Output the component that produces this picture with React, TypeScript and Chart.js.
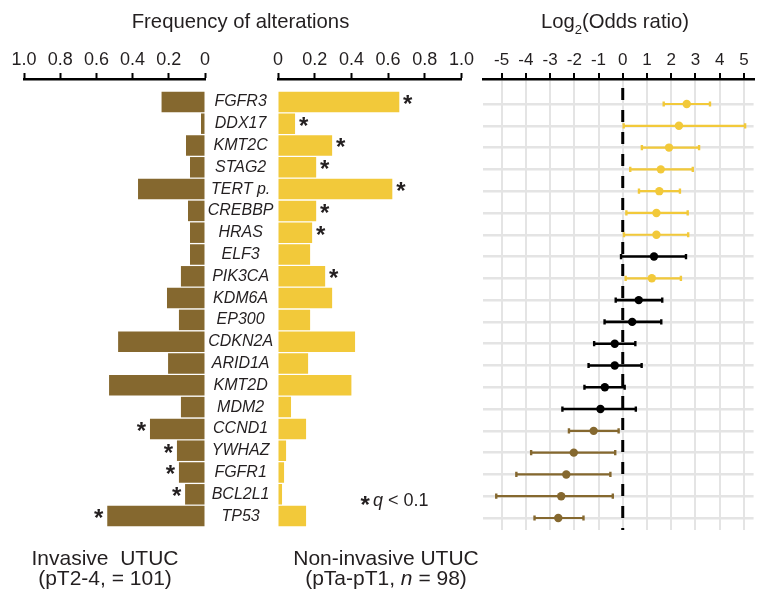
import React, { useEffect, useRef } from 'react';
import { Chart, registerables } from 'chart.js';

Chart.register(...registerables);

// ---------- data ----------
const genes = ['FGFR3', 'DDX17', 'KMT2C', 'STAG2', 'TERT p.', 'CREBBP', 'HRAS', 'ELF3', 'PIK3CA', 'KDM6A', 'EP300', 'CDKN2A', 'ARID1A', 'KMT2D', 'MDM2', 'CCND1', 'YWHAZ', 'FGFR1', 'BCL2L1', 'TP53'];
const invasiveFreq = [0.24, 0.022, 0.105, 0.083, 0.37, 0.094, 0.083, 0.083, 0.133, 0.21, 0.144, 0.48, 0.204, 0.53, 0.133, 0.304, 0.155, 0.144, 0.11, 0.54];
const nonInvasiveFreq = [0.661, 0.093, 0.295, 0.208, 0.623, 0.208, 0.186, 0.175, 0.257, 0.295, 0.175, 0.42, 0.164, 0.4, 0.071, 0.153, 0.044, 0.033, 0.022, 0.153];
const invasiveSignificant = [false, false, false, false, false, false, false, false, false, false, false, false, false, false, false, true, true, true, true, true];
const nonInvasiveSignificant = [true, true, true, true, true, true, true, false, true, false, false, false, false, false, false, false, false, false, false, false];
const log2OddsRatio = [2.64, 2.32, 1.91, 1.57, 1.51, 1.39, 1.39, 1.29, 1.2, 0.66, 0.39, -0.33, -0.33, -0.74, -0.92, -1.2, -2.02, -2.33, -2.54, -2.66];
const ciLower = [1.69, 0.04, 0.79, 0.31, 0.67, 0.15, 0.05, -0.07, 0.12, -0.29, -0.75, -1.18, -1.41, -1.58, -2.49, -2.22, -3.78, -4.39, -5.22, -3.64];
const ciUpper = [3.6, 5.05, 3.15, 2.89, 2.36, 2.68, 2.7, 2.61, 2.4, 1.63, 1.59, 0.52, 0.78, 0.08, 0.54, -0.17, -0.31, -0.51, -0.41, -1.62];
const enrichedIn = ['non', 'non', 'non', 'non', 'non', 'non', 'non', 'ns', 'non', 'ns', 'ns', 'ns', 'ns', 'ns', 'ns', 'inv', 'inv', 'inv', 'inv', 'inv'];
const freqTicks = [0, 0.2, 0.4, 0.6, 0.8, 1.0];
const oddsTicks = [-5, -4, -3, -2, -1, 0, 1, 2, 3, 4, 5];

// ---------- style ----------
const BROWN = '#85682f';
const YELLOW = '#f2c93a';
const TEXT = '#231f20';
const GRID = '#e4e4e4';
const FONT = "'Liberation Sans', Arial, Helvetica, sans-serif";

const H = 594;
const AXIS_H = 79;
const BAR_ROW_MIN = -1.05;
const ROW_MAX = 19.5;
const OR_ROW_MIN = -1.147;
const OR_ROW_MAX = 19.55;
const OR_MIN = -5.75;
const OR_MAX = 5.4;

const colorFor = (g: string) => (g === 'non' ? YELLOW : g === 'inv' ? BROWN : '#000000');

const rowScale = (min: number, max: number, extra: any = {}) => ({
  type: 'linear',
  reverse: true,
  offset: false,
  min,
  max,
  afterBuildTicks: (s: any) => {
    s.ticks = genes.map((_, i) => ({ value: i }));
  },
  ...extra,
});

const freqScale = (reverse: boolean) => ({
  type: 'linear',
  position: 'top',
  reverse,
  min: 0,
  max: 1,
  afterBuildTicks: (s: any) => {
    s.ticks = freqTicks.map((v) => ({ value: v }));
  },
  afterFit: (s: any) => {
    s.height = AXIS_H;
  },
  ticks: {
    font: { family: FONT, size: 18 },
    color: TEXT,
    padding: 2,
    maxRotation: 0,
    autoSkip: false,
    callback: (v: any) => (Number(v) === 0 ? '0' : Number(v).toFixed(1)),
  },
  grid: { drawOnChartArea: false, drawTicks: true, tickLength: 6, tickColor: '#000', tickWidth: 2 },
  border: { display: true, color: '#000', width: 2.5 },
});

const asteriskPlugin = (id: string, sig: boolean[], dir: number) => ({
  id,
  afterDatasetsDraw(chart: any) {
    const meta = chart.getDatasetMeta(0);
    const ctx = chart.ctx;
    ctx.save();
    ctx.font = `bold 24px ${FONT}`;
    ctx.fillStyle = TEXT;
    ctx.textAlign = 'center';
    ctx.textBaseline = 'alphabetic';
    sig.forEach((s, i) => {
      if (!s) return;
      const el = meta.data[i];
      ctx.fillText('*', el.x + dir * 8.5, el.y + 10);
    });
    ctx.restore();
  },
});

const baseOptions = {
  animation: false,
  responsive: false,
  indexAxis: 'y',
  plugins: { legend: { display: false }, tooltip: { enabled: false } },
};

const leftConfig = () => ({
  type: 'bar',
  data: {
    datasets: [
      {
        data: invasiveFreq.map((v, i) => ({ x: v, y: i })),
        backgroundColor: BROWN,
        borderWidth: 0,
        barPercentage: 0.94,
        categoryPercentage: 1,
      },
    ],
  },
  options: {
    ...baseOptions,
    layout: { padding: { left: 24, right: 10, top: 0, bottom: H - 527 } },
    scales: {
      x: freqScale(true),
      y: rowScale(BAR_ROW_MIN, ROW_MAX, { display: false }),
    },
  },
  plugins: [asteriskPlugin('astLeft', invasiveSignificant, -1)],
});

const middleConfig = () => ({
  type: 'bar',
  data: {
    datasets: [
      {
        data: nonInvasiveFreq.map((v, i) => ({ x: v, y: i })),
        backgroundColor: YELLOW,
        borderWidth: 0,
        barPercentage: 0.94,
        categoryPercentage: 1,
      },
    ],
  },
  options: {
    ...baseOptions,
    layout: { padding: { left: 0, right: 18.5, top: 0, bottom: H - 527 } },
    scales: {
      x: freqScale(false),
      y: rowScale(BAR_ROW_MIN, ROW_MAX, {
        display: true,
        afterFit: (s: any) => {
          s.width = 78;
        },
        grid: { display: false, drawTicks: false },
        border: { display: false },
        ticks: {
          font: { family: FONT, size: 16, style: 'italic' },
          color: TEXT,
          crossAlign: 'center',
          padding: 4.5,
          autoSkip: false,
          callback: (v: any) => genes[v] ?? '',
        },
      }),
    },
  },
  plugins: [asteriskPlugin('astMid', nonInvasiveSignificant, 1)],
});

const rightConfig = () => {
  const errorBars = genes.map((_, i) => {
    const c = colorFor(enrichedIn[i]);
    const black = enrichedIn[i] === 'ns';
    return {
      type: 'scatter',
      showLine: true,
      data: [
        { x: ciLower[i], y: i },
        { x: ciUpper[i], y: i },
      ],
      borderColor: c,
      borderWidth: black ? 2.6 : 2.2,
      pointStyle: 'line',
      pointRotation: 90,
      pointRadius: 2.6,
      pointBorderWidth: 2.4,
      pointBorderColor: c,
      pointBackgroundColor: c,
      order: 2,
    };
  });
  return {
    type: 'scatter',
    data: {
      datasets: [
        {
          type: 'scatter',
          showLine: true,
          data: [
            { x: 0, y: OR_ROW_MIN },
            { x: 0, y: OR_ROW_MAX },
          ],
          borderColor: '#000',
          borderWidth: 3,
          borderDash: [12, 10],
          borderDashOffset: 13,
          pointRadius: 0,
          order: 3,
        },
        ...errorBars,
        {
          type: 'scatter',
          data: log2OddsRatio.map((v, i) => ({ x: v, y: i })),
          pointRadius: 4.2,
          pointBorderWidth: 0,
          pointBackgroundColor: enrichedIn.map(colorFor),
          order: 1,
        },
      ],
    },
    options: {
      animation: false,
      responsive: false,
      plugins: { legend: { display: false }, tooltip: { enabled: false } },
      layout: { padding: { left: 3, right: 3, top: 0, bottom: H - 530 } },
      scales: {
        x: {
          type: 'linear',
          position: 'top',
          min: OR_MIN,
          max: OR_MAX,
          afterBuildTicks: (s: any) => {
            s.ticks = oddsTicks.map((v) => ({ value: v }));
          },
          afterFit: (s: any) => {
            s.height = AXIS_H;
          },
          ticks: { font: { family: FONT, size: 17 }, color: TEXT, padding: 2, maxRotation: 0, autoSkip: false },
          grid: { color: GRID, lineWidth: 2, drawTicks: true, tickLength: 6, tickColor: '#000', tickWidth: 2 },
          border: { display: true, color: '#000', width: 2.5 },
        },
        y: rowScale(OR_ROW_MIN, OR_ROW_MAX, {
          display: true,
          afterFit: (s: any) => {
            s.width = 0;
          },
          ticks: { display: false },
          grid: { color: GRID, lineWidth: 2.4, drawTicks: false },
          border: { display: false },
        }),
      },
    },
  };
};

function ChartCanvas({ left, width, build }: { left: number; width: number; build: () => any }) {
  const ref = useRef<HTMLCanvasElement | null>(null);
  useEffect(() => {
    const chart = new Chart(ref.current as HTMLCanvasElement, build());
    return () => chart.destroy();
  }, []);
  return (
    <canvas
      ref={ref}
      width={width}
      height={H}
      style={{ position: 'absolute', left, top: 0, width, height: H }}
    />
  );
}

const textStyle = (extra: any) => ({
  position: 'absolute' as const,
  fontFamily: FONT,
  color: TEXT,
  whiteSpace: 'pre' as const,
  textAlign: 'center' as const,
  ...extra,
});

export default function App() {
  return (
    <div style={{ position: 'absolute', left: 0, top: 0, width: 757, height: H, overflow: 'hidden', background: '#fff' }}>
      <ChartCanvas left={0} width={215} build={leftConfig} />
      <ChartCanvas left={200} width={280} build={middleConfig} />
      <ChartCanvas left={477} width={283} build={rightConfig} />

      <div style={textStyle({ left: 90.5, top: 11, width: 300, fontSize: 20.3, lineHeight: '20px' })}>Frequency of alterations</div>
      <div style={textStyle({ left: 465, top: 11, width: 300, fontSize: 20.3, lineHeight: '20px' })}>
        Log<span style={{ fontSize: 13, position: 'relative', top: 6 }}>2</span>(Odds ratio)
      </div>

      <div style={textStyle({ left: 360.6, top: 492.5, width: 10, fontSize: 24, lineHeight: '24px', fontWeight: 'bold', textAlign: 'left' })}>*</div>
      <div style={textStyle({ left: 373, top: 491, fontSize: 18, lineHeight: '18px', textAlign: 'left' })}>
        <i>q</i> {'<'} 0.1
      </div>

      <div style={textStyle({ left: 5, top: 548, width: 200, fontSize: 21, lineHeight: '20px' })}>
        {'Invasive  UTUC\n(pT2-4, = 101)'}
      </div>
      <div style={textStyle({ left: 286, top: 548, width: 200, fontSize: 21, lineHeight: '20px' })}>
        Non-invasive UTUC{'\n'}(pTa-pT1, <i>n</i> = 98)
      </div>
    </div>
  );
}
